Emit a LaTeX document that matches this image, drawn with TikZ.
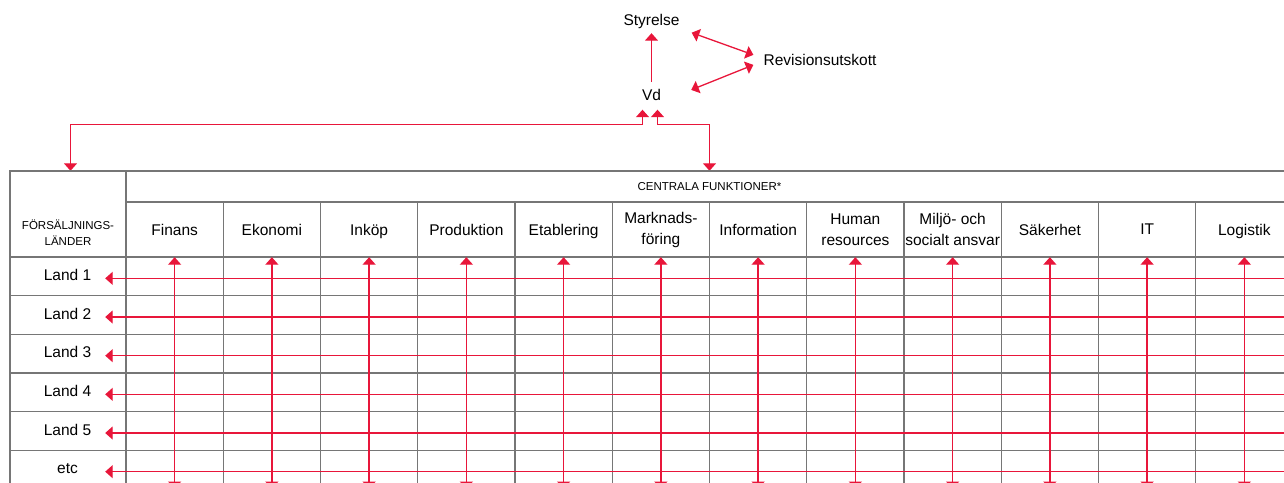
\documentclass[tikz,border=0pt]{standalone}
\usepackage{fontspec}
\setmainfont{Liberation Sans}
\usetikzlibrary{arrows.meta,calc}

\definecolor{pilrod}{RGB}{232,22,58}
\definecolor{linjegra}{RGB}{118,118,118}

\newcommand{\stortext}{\fontsize{15.5}{21}\selectfont}
\newcommand{\smatext}{\fontsize{11.5}{16}\selectfont}

\tikzset{
  pil/.style={draw=pilrod, line width=1.3pt, {Triangle[width=13pt,length=7.5pt]}-{Triangle[width=13pt,length=7.5pt]}},
  enkelpil/.style={draw=pilrod, line width=1.3pt, -{Triangle[width=13pt,length=7.5pt]}},
  linje/.style={draw=linjegra, line width=1.4pt},
  rubrik/.style={font=\stortext, inner sep=0pt, text depth=0pt},
  kolumn/.style={font=\stortext, align=center, inner sep=0pt, minimum width=97pt, minimum height=55pt},
  enrad/.style={text depth=0pt},
  tvarad/.style={},
  rad/.style={font=\stortext, inner sep=0pt, minimum width=75pt, text height=11pt, text depth=7pt},
}

\begin{document}
\begin{tikzpicture}[x=1pt,y=-1pt]
	\useasboundingbox (0,0) rectangle (1284,482);
	\clip (0,0) rectangle (1284,482);

	% ledning
	\node[rubrik, anchor=base] (styrelse) at (651.5,25) {Styrelse};
	\node[rubrik, anchor=base] (vd) at (651.5,100.5) {Vd};
	\node[rubrik, anchor=base] (revision) at (820,65.5) {Revisionsutskott};

	\draw[enkelpil, shorten <=7pt, shorten >=8pt] (vd.north) -- (styrelse.south);
	\draw[pil] ([xshift=12pt,yshift=-7.5pt]styrelse.south east) -- ([xshift=-10pt,yshift=5pt]revision.west);
	\draw[pil] ([xshift=30pt,yshift=5pt]vd.east) -- ([xshift=-10pt,yshift=-5pt]revision.west);

	% tabellhuvud
	\node[minimum width=116pt, minimum height=86pt, inner sep=0pt] (lander) at (68,214) {};
	\node[font=\smatext, align=center, inner sep=0pt] (landertext) at (68,233) {FÖRSÄLJNINGS-\\LÄNDER};
	\node[font=\smatext, minimum width=1167pt, minimum height=31pt, inner sep=0pt] (centrala) at (709.5,186.5) {CENTRALA FUNKTIONER*};

	\draw[pil] ($(vd.south)+(-9,9)$) -- ++(0,15) -| ([xshift=2.5pt]lander.north);
	\draw[pil] ($(vd.south)+(6,9)$) -- ++(0,15) -| (centrala.north);

	% rutnat
	\draw[linje] (10,489) -- (10,171) -- (1293,171);
	\draw[linje] (126,171) -- (126,489);
	\draw[linje] (126,202) -- (1293,202);
	\foreach \i in {1,...,12}
		\draw[linje] ({126+97.25*\i},202) -- ({126+97.25*\i},489);
	\foreach \j in {0,...,6}
		\draw[linje] (10,{257+38.667*\j}) -- (1293,{257+38.667*\j});

	% funktioner
	\foreach \namn/\stil [count=\i] in {Finans/enrad, Ekonomi/enrad, Inköp/enrad, Produktion/enrad, Etablering/enrad, {Marknads-\\föring}/tvarad, Information/enrad, {Human\\resources}/tvarad, {Miljö- och\\socialt ansvar}/tvarad, Säkerhet/enrad, IT/enrad, Logistik/enrad} {
		\node[kolumn, \stil] (k\i) at ({126+97.25*(\i-0.5)},229.5) {\namn};
		\coordinate (b\i) at ({126+97.25*(\i-0.5)},489);
		\draw[pil] (b\i) -- (k\i.south);
	}

	% lander
	\foreach \namn [count=\j] in {Land 1, Land 2, Land 3, Land 4, Land 5, etc} {
		\node[rad] (l\j) at (67.5,{257+38.667*(\j-0.5)+2}) {\namn};
		\coordinate (h\j) at (1293,{257+38.667*(\j-0.5)+2});
		\draw[pil] (h\j) -- (l\j.east);
	}
\end{tikzpicture}
\end{document}
